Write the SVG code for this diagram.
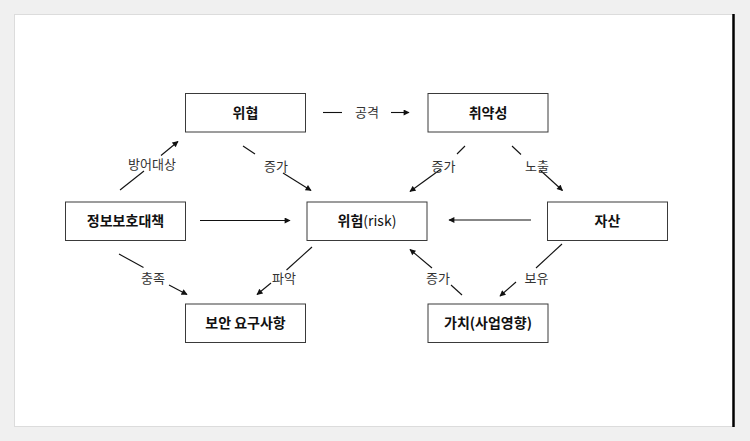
<svg xmlns="http://www.w3.org/2000/svg" width="750" height="441" viewBox="0 0 750 441">
<style>
.box{fill:#fff;stroke:#3a3a3a;stroke-width:1}
.nt{font-family:"Noto Sans CJK KR","Liberation Sans",sans-serif;font-size:14px;font-weight:bold;fill:#111;text-anchor:middle}
.lb{font-family:"Noto Sans CJK KR","Liberation Sans",sans-serif;font-size:13px;fill:#333;text-anchor:middle}
.ln{stroke:#111;stroke-width:1.1;fill:none}
.rg{font-weight:normal}
</style>
<defs>
<marker id="ah" viewBox="0 0 10 10" refX="9" refY="5" markerWidth="7" markerHeight="6" markerUnits="userSpaceOnUse" orient="auto">
<path d="M0,0 L10,5 L0,10 z" fill="#111"/>
</marker>
</defs>
<rect x="0" y="0" width="750" height="441" fill="#f0f0f0"/>
<rect x="14.5" y="14.5" width="719" height="412" fill="#fff" stroke="#dcdcdc" stroke-width="1"/>
<line x1="733.5" y1="14" x2="733.5" y2="427" stroke="#000" stroke-width="2.5"/>

<g id="connectors">
<line class="ln" x1="323" y1="112.5" x2="342" y2="112.5"/>
<line class="ln" x1="391" y1="112.5" x2="409" y2="112.5" marker-end="url(#ah)"/>
<text class="lb" x="367" y="117">공격</text>

<line class="ln" x1="120" y1="190" x2="144" y2="171"/>
<line class="ln" x1="161" y1="155.5" x2="178" y2="141.5" marker-end="url(#ah)"/>
<text class="lb" x="152" y="169">방어대상</text>

<line class="ln" x1="243" y1="146" x2="255" y2="154"/>
<line class="ln" x1="283" y1="173" x2="311" y2="190.5" marker-end="url(#ah)"/>
<text class="lb" x="276" y="171">증가</text>

<line class="ln" x1="465" y1="146" x2="457" y2="154"/>
<line class="ln" x1="441" y1="169" x2="410" y2="191.5" marker-end="url(#ah)"/>
<text class="lb" x="443.5" y="171">증가</text>

<line class="ln" x1="512" y1="146" x2="521" y2="154.5"/>
<line class="ln" x1="540" y1="170" x2="562.5" y2="190.5" marker-end="url(#ah)"/>
<text class="lb" x="537" y="171">노출</text>

<line class="ln" x1="200" y1="220.5" x2="290" y2="220.5" marker-end="url(#ah)"/>
<line class="ln" x1="531" y1="220" x2="449" y2="220" stroke-width="1.5" marker-end="url(#ah)"/>

<line class="ln" x1="119" y1="254" x2="143.5" y2="267.5"/>
<line class="ln" x1="169" y1="285" x2="187" y2="294.5" marker-end="url(#ah)"/>
<text class="lb" x="153" y="283">충족</text>

<line class="ln" x1="312" y1="247" x2="286.5" y2="270"/>
<line class="ln" x1="271" y1="283" x2="257" y2="294.5" marker-end="url(#ah)"/>
<text class="lb" x="284" y="283">파악</text>

<line class="ln" x1="462" y1="295" x2="451" y2="285"/>
<line class="ln" x1="432" y1="268" x2="410" y2="249.5" marker-end="url(#ah)"/>
<text class="lb" x="438" y="283">증가</text>

<line class="ln" x1="562" y1="244" x2="536" y2="268"/>
<line class="ln" x1="516" y1="282" x2="500" y2="296" marker-end="url(#ah)"/>
<text class="lb" x="536.5" y="283">보유</text>
</g>

<g id="n-threat">
<rect class="box" x="185.5" y="93.5" width="120" height="38.5"/>
<text class="nt" x="245.5" y="117.5">위협</text>
</g>
<g id="n-vuln">
<rect class="box" x="428" y="93.5" width="120" height="38.5"/>
<text class="nt" x="488" y="117.5">취약성</text>
</g>
<g id="n-measure">
<rect class="box" x="65.5" y="202" width="120" height="38.5"/>
<text class="nt" x="125.5" y="226">정보보호대책</text>
</g>
<g id="n-risk">
<rect class="box" x="307" y="202" width="120" height="38.5"/>
<text class="nt" x="367" y="226">위험<tspan class="rg">(risk)</tspan></text>
</g>
<g id="n-asset">
<rect class="box" x="547.5" y="202" width="120" height="38.5"/>
<text class="nt" x="607.5" y="226">자산</text>
</g>
<g id="n-req">
<rect class="box" x="185.5" y="304" width="120" height="38.5"/>
<text class="nt" x="245.5" y="328">보안 요구사항</text>
</g>
<g id="n-value">
<rect class="box" x="428" y="304" width="120" height="38.5"/>
<text class="nt" x="488" y="328">가치(사업영향)</text>
</g>
</svg>
